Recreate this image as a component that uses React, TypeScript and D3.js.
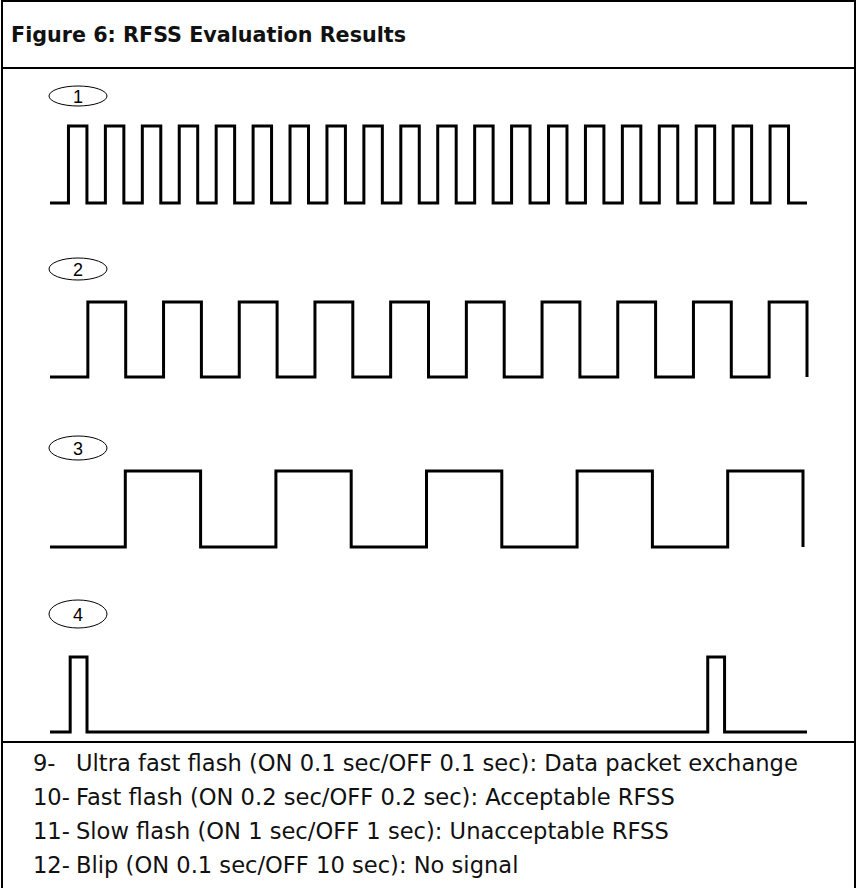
import React from 'react';
import * as d3 from 'd3';

const WIDTH = 857;
const HEIGHT = 888;

// Figure texts
const titleText = 'Figure 6: RFSS Evaluation Results';
const waveLabels = ['1', '2', '3', '4'];
const legendNumbers = ['9-', '10-', '11-', '12-'];
const legendTexts = [
  'Ultra fast flash (ON 0.1 sec/OFF 0.1 sec): Data packet exchange',
  'Fast flash (ON 0.2 sec/OFF 0.2 sec): Acceptable RFSS',
  'Slow flash (ON 1 sec/OFF 1 sec): Unacceptable RFSS',
  'Blip (ON 0.1 sec/OFF 10 sec): No signal',
];

// Pulse start times (sec), per waveform
const wave1Starts = [0.1, 0.3, 0.5, 0.7, 0.9, 1.1, 1.3, 1.5, 1.7, 1.9, 2.1, 2.3, 2.5, 2.7, 2.9, 3.1, 3.3, 3.5, 3.7, 3.9];
const wave2Starts = [0.2, 0.6, 1.0, 1.4, 1.8, 2.2, 2.6, 3.0, 3.4, 3.8];
const wave3Starts = [1, 3, 5, 7, 9];
// the blip trace is drawn compressed (not to scale)
const wave4Starts = [0.12, 3.91];

const pulseWidths = [0.1, 0.2, 1, 0.1];
const traceEnds = [4.1, 4.0, 10, 4.5];
const allStarts = [wave1Starts, wave2Starts, wave3Starts, wave4Starts];

// layout of each trace row
const rows = [
  { high: 126, low: 203, right: 807, labelY: 96, ry: 10 },
  { high: 302, low: 377, right: 807, labelY: 269, ry: 11 },
  { high: 471, low: 547, right: 803, labelY: 448, ry: 12 },
  { high: 657, low: 732, right: 807, labelY: 614, ry: 14 },
];

function tracePoints(starts: number[], width: number, end: number): [number, number][] {
  const pts: [number, number][] = [[0, 0]];
  starts.forEach(s => {
    pts.push([s, 1]);
    if (s + width < end - 1e-9) pts.push([s + width, 0]);
  });
  const last = pts[pts.length - 1][1];
  pts.push([end, last]);
  if (last === 1) pts.push([end, 0]);
  return pts;
}

export default function App() {
  const traces = rows.map((row, i) => {
    const x = d3.scaleLinear().domain([0, traceEnds[i]]).range([50, row.right]);
    const y = d3.scaleLinear().domain([0, 1]).range([row.low, row.high]);
    const line = d3.line<[number, number]>()
      .x(d => x(d[0]))
      .y(d => y(d[1]))
      .curve(d3.curveStepAfter);
    return line(tracePoints(allStarts[i], pulseWidths[i], traceEnds[i])) || '';
  });

  return (
    <svg
      width={WIDTH}
      height={HEIGHT}
      style={{ position: 'absolute', left: 0, top: 0, background: '#fff' }}
    >
      {/* frame */}
      <g stroke="#000" strokeWidth={2} fill="none">
        <line x1={2} y1={0} x2={2} y2={HEIGHT} />
        <line x1={855} y1={0} x2={855} y2={HEIGHT} />
        <line x1={1} y1={1} x2={856} y2={1} />
        <line x1={1} y1={68} x2={856} y2={68} />
        <line x1={1} y1={742} x2={856} y2={742} />
      </g>

      <text
        x={11}
        y={42}
        fontFamily="'DejaVu Sans', sans-serif"
        fontWeight="bold"
        fontSize={20.7}
        fill="#111"
      >
        {titleText}
      </text>

      {rows.map((row, i) => (
        <g key={i}>
          <ellipse cx={78} cy={row.labelY} rx={29} ry={row.ry} fill="none" stroke="#000" strokeWidth={1} />
          <text
            x={78}
            y={row.labelY + 6.5}
            textAnchor="middle"
            fontFamily="'Liberation Sans', Arial, sans-serif"
            fontSize={18}
            fill="#000"
          >
            {waveLabels[i]}
          </text>
          <path d={traces[i]} fill="none" stroke="#000" strokeWidth={3} strokeLinejoin="miter" />
        </g>
      ))}

      {legendTexts.map((t, i) => (
        <g key={i} fontFamily="'DejaVu Sans', sans-serif" fontSize={22.6} fill="#111">
          <text x={33} y={771 + i * 34}>{legendNumbers[i]}</text>
          <text x={76} y={771 + i * 34}>{t}</text>
        </g>
      ))}
    </svg>
  );
}
